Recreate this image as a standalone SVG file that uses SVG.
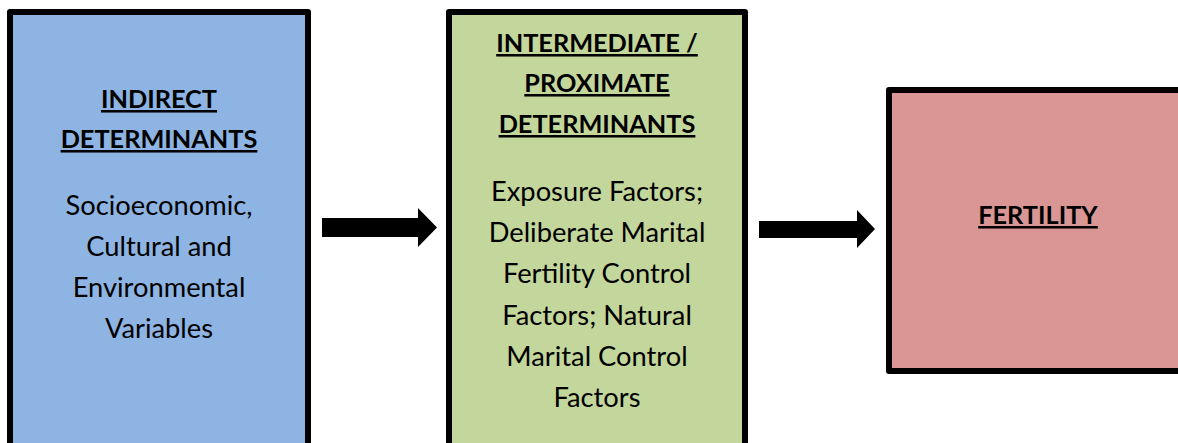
<svg xmlns="http://www.w3.org/2000/svg" width="1178" height="443" viewBox="0 0 1178 443">
  <style>
    .box { stroke: #000; stroke-width: 6; stroke-linejoin: round; }
    .t { font-family: Lato, "Open Sans", sans-serif; font-size: 27.3px; fill: #000; text-anchor: middle; }
    .h { font-weight: bold; font-size: 25.3px; text-decoration: underline; }
    .arrow { fill: #000; }
  </style>
  <rect width="1178" height="443" fill="#fff"/>

  <g id="indirect">
    <rect class="box" x="10" y="12" width="298" height="460" fill="#8EB4E3"/>
    <text class="t h" x="159" y="108">INDIRECT</text>
    <text class="t h" x="159" y="148">DETERMINANTS</text>
    <text class="t" x="159" y="215">Socioeconomic,</text>
    <text class="t" x="159" y="256">Cultural and</text>
    <text class="t" x="159" y="297">Environmental</text>
    <text class="t" x="159" y="338">Variables</text>
  </g>

  <g id="proximate">
    <rect class="box" x="449" y="12" width="296" height="460" fill="#C3D69B"/>
    <text class="t h" x="597" y="52">INTERMEDIATE /</text>
    <text class="t h" x="597" y="92">PROXIMATE</text>
    <text class="t h" x="597" y="133">DETERMINANTS</text>
    <text class="t" x="597" y="201">Exposure Factors;</text>
    <text class="t" x="597" y="242">Deliberate Marital</text>
    <text class="t" x="597" y="283">Fertility Control</text>
    <text class="t" x="597" y="325">Factors; Natural</text>
    <text class="t" x="597" y="366">Marital Control</text>
    <text class="t" x="597" y="407">Factors</text>
  </g>

  <g id="fertility">
    <rect class="box" x="889" y="90" width="320" height="281" fill="#D99694"/>
    <text class="t h" x="1038" y="224">FERTILITY</text>
  </g>

  <g id="connectors">
    <polygon class="arrow" points="322,218 418,218 418,208 437,227.5 418,247 418,237 322,237"/>
    <polygon class="arrow" points="759,221 857,221 857,210 875,229 857,248 857,238 759,238"/>
  </g>
</svg>
